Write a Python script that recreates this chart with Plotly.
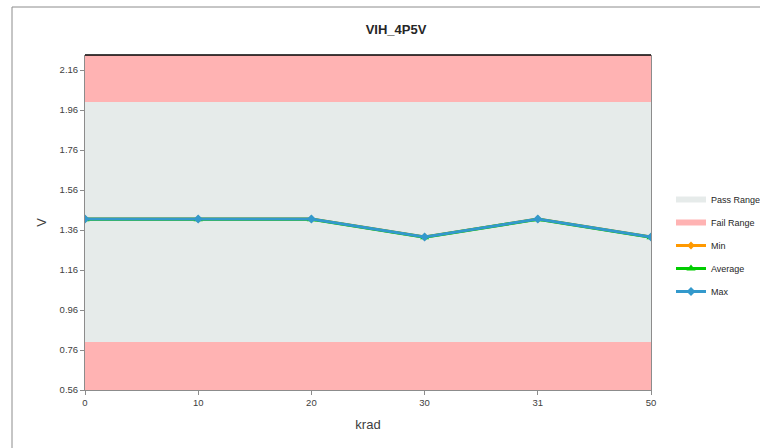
import plotly.graph_objects as go

# ---- data ----
krad = ["0", "10", "20", "30", "31", "50"]
min_vals = [1.415, 1.415, 1.415, 1.325, 1.415, 1.325]
avg_vals = [1.414, 1.414, 1.414, 1.324, 1.414, 1.324]
max_vals = [1.415, 1.415, 1.415, 1.325, 1.415, 1.325]
pass_low, pass_high = 0.80, 2.00
y_min, y_max = 0.56, 2.235
y_ticks = [0.56, 0.76, 0.96, 1.16, 1.36, 1.56, 1.76, 1.96, 2.16]

W, H = 760, 448
ML, MR, MT, MB = 85, 109, 55, 58
PW, PH = W - ML - MR, H - MT - MB

xi = list(range(len(krad)))
x0, x1 = xi[0], xi[-1]

FONT = "Liberation Sans, Arial, sans-serif"

fig = go.Figure()

# bands
fig.add_trace(go.Scatter(
    x=[x0, x1, x1, x0, x0], y=[pass_low, pass_low, pass_high, pass_high, pass_low],
    fill="toself", fillcolor="#e6ebea", mode="none", name="Pass Range",
    legendgroup="a", hoverinfo="skip"))
fig.add_trace(go.Scatter(
    x=[x0, x1, x1, x0, x0], y=[pass_high, pass_high, y_max, y_max, pass_high],
    fill="toself", fillcolor="#ffb3b3", mode="none", name="Fail Range",
    legendgroup="b", hoverinfo="skip"))
fig.add_trace(go.Scatter(
    x=[x0, x1, x1, x0, x0], y=[y_min, y_min, pass_low, pass_low, y_min],
    fill="toself", fillcolor="#ffb3b3", mode="none", name="Fail Range",
    legendgroup="b", showlegend=False, hoverinfo="skip"))

fig.add_trace(go.Scatter(
    x=xi, y=min_vals, mode="lines+markers", name="Min", legendgroup="c",
    line=dict(color="#ff9900", width=3),
    marker=dict(symbol="diamond", size=6, color="#ff9900")))
fig.add_trace(go.Scatter(
    x=xi, y=avg_vals, mode="lines+markers", name="Average", legendgroup="d",
    line=dict(color="#00cc00", width=3),
    marker=dict(symbol="triangle-up", size=8, color="#00cc00")))
fig.add_trace(go.Scatter(
    x=xi, y=max_vals, mode="lines+markers", name="Max", legendgroup="e",
    line=dict(color="#3399cc", width=3),
    marker=dict(symbol="diamond", size=7, color="#3399cc")))

# outer chart frame
fx0 = (12 - ML) / PW
fy1 = 1 + (MT - 7) / PH
fig.add_shape(type="rect", xref="paper", yref="paper",
              x0=fx0, x1=1 + (W + 20 - ML - PW) / PW,
              y0=-(MB + 20) / PH, y1=fy1,
              line=dict(color="#8c8c8c", width=1), fillcolor="rgba(0,0,0,0)", layer="below")
# top black border of plot area
fig.add_shape(type="line", xref="paper", yref="paper", x0=0, x1=1, y0=1, y1=1,
              line=dict(color="#000000", width=1.5))

fig.update_layout(
    width=W, height=H,
    margin=dict(l=ML, r=MR, t=MT, b=MB, autoexpand=False),
    paper_bgcolor="white", plot_bgcolor="white",
    font=dict(family=FONT, size=10, color="#404040"),
    title=dict(text="<b>VIH_4P5V</b>", x=(396 - 0) / W, xanchor="center",
               y=1 - 29 / H, yanchor="middle",
               font=dict(family=FONT, size=13, color="#262626")),
    showlegend=True,
    legend=dict(x=1 + (671 - ML - PW) / PW, xanchor="left",
                y=1 - (185 - MT) / PH, yanchor="top",
                traceorder="grouped", tracegroupgap=4, itemwidth=30,
                font=dict(family=FONT, size=9, color="#262626"),
                bgcolor="rgba(0,0,0,0)"),
    xaxis=dict(range=[x0, x1], tickmode="array", tickvals=xi, ticktext=krad,
               showgrid=False, zeroline=False, showline=True, linecolor="#8c8c8c",
               ticks="outside", ticklen=4, tickcolor="#8c8c8c",
               tickfont=dict(size=9.5, color="#404040"),
               title=dict(text="krad", font=dict(size=13, color="#404040"), standoff=12)),
    yaxis=dict(range=[y_min, y_max], tickmode="array", tickvals=y_ticks,
               ticktext=[f"{v:.2f}" for v in y_ticks],
               showgrid=False, zeroline=False, showline=True, linecolor="#8c8c8c",
               mirror=True,
               ticks="outside", ticklen=4, tickcolor="#8c8c8c",
               tickfont=dict(size=9.5, color="#404040"),
               title=dict(text="V", font=dict(size=13, color="#404040"), standoff=10)),
)

fig.write_html("out.html", config={"displayModeBar": False},
               post_script="document.body.style.margin='0px';")
